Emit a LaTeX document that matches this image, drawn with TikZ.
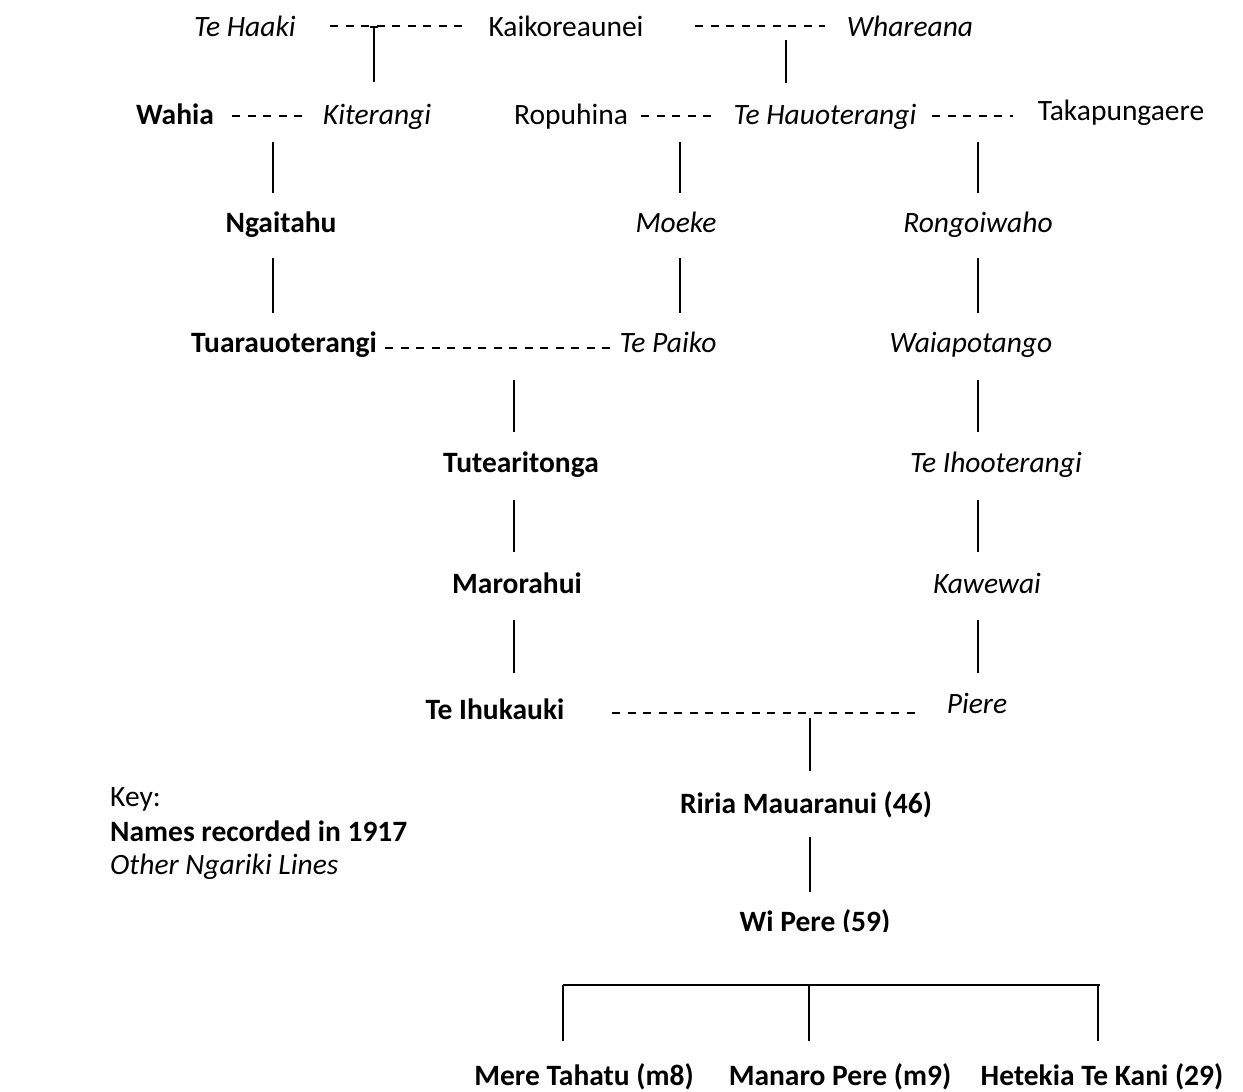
\documentclass[tikz,border=0pt]{standalone}
\usepackage{fontspec}
\setmainfont{Carlito}
\begin{document}
\begin{tikzpicture}[x=1pt,y=-1pt,
  every node/.style={inner sep=0pt,anchor=base,font=\fontsize{29.5}{34}\selectfont},
  rec/.style={font=\fontsize{29.5}{34}\selectfont\bfseries},
  oth/.style={font=\fontsize{29.5}{34}\selectfont\itshape},
  plain/.style={},
  descent/.style={line width=1.4pt},
  marriage/.style={line width=1.4pt,dash pattern=on 8pt off 7.5pt}]
\useasboundingbox (0,0) rectangle (1243,1092);

% generation 1
\node[oth]   (tehaaki)  at (245,36) {Te Haaki};
\node[plain] (kaikoreaunei) at (566,36) {Kaikoreaunei};
\node[oth]   (whareana) at (910,36) {Whareana};

% generation 2
\node[rec]   (wahia)     at (175,124) {Wahia};
\node[oth]   (kiterangi) at (377,124) {Kiterangi};
\node[plain] (ropuhina)  at (571,124) {Ropuhina};
\node[oth]   (tehauoterangi) at (825,124) {Te Hauoterangi};
\node[plain] (takapungaere)  at (1121,120) {Takapungaere};

% generation 3
\node[rec] (ngaitahu)   at (281,232) {Ngaitahu};
\node[oth] (moeke)      at (676,232) {Moeke};
\node[oth] (rongoiwaho) at (978,232) {Rongoiwaho};

% generation 4
\node[rec] (tuarauoterangi) at (284,352) {Tuarauoterangi};
\node[oth] (tepaiko)        at (668,352) {Te Paiko};
\node[oth] (waiapotango)    at (971,352) {Waiapotango};

% generation 5
\node[rec] (tutearitonga)  at (521,472) {Tutearitonga};
\node[oth] (teihooterangi) at (996,472) {Te Ihooterangi};

% generation 6
\node[rec] (marorahui) at (517,593) {Marorahui};
\node[oth] (kawewai)   at (987,593) {Kawewai};

% generation 7
\node[rec] (teihukauki) at (495,719) {Te Ihukauki};
\node[oth] (piere)      at (977,713) {Piere};

% generation 8 and 9
\node[rec] (riria) at (806,813) {Riria Mauaranui (46)};
\begin{scope}
  \clip (700,890) rectangle (950,931);
  \node[rec] (wipere) at (815,931) {Wi Pere (59)};
\end{scope}

% generation 10
\node[rec] (mere)    at (584,1085) {Mere Tahatu (m8)};
\node[rec] (manaro)  at (840,1085) {Manaro Pere (m9)};
\node[rec] (hetekia) at (1102,1085) {Hetekia Te Kani (29)};

% key
\node[plain,anchor=base west] (keyhead)  at (110,806) {Key:};
\node[rec,anchor=base west]   (keyrec)   at (110,841) {Names recorded in 1917};
\node[oth,anchor=base west]   (keyother) at (110,874) {Other Ngariki Lines};

% unions (dashed)
\coordinate (u1a) at (330,26);  \coordinate (u1b) at (462,26);
\coordinate (u2a) at (695,26);  \coordinate (u2b) at (825,26);
\coordinate (u3a) at (232,116); \coordinate (u3b) at (303,116);
\coordinate (u4a) at (641,116); \coordinate (u4b) at (717,116);
\coordinate (u5a) at (932,116); \coordinate (u5b) at (1013,116);
\coordinate (u6a) at (385,348); \coordinate (u6b) at (612,348);
\coordinate (u7a) at (612,713); \coordinate (u7b) at (915,713);
\foreach \a/\b in {u1a/u1b,u2a/u2b,u3a/u3b,u4a/u4b,u5a/u5b,u6a/u6b,u7a/u7b}
  \draw[marriage] (\a) -- (\b);

% descent lines
\coordinate (d1a) at (374,27);  \coordinate (d1b) at (374,82);
\coordinate (d2a) at (786,40);  \coordinate (d2b) at (786,83);
\coordinate (d3a) at (273,142); \coordinate (d3b) at (273,193);
\coordinate (d4a) at (680,142); \coordinate (d4b) at (680,193);
\coordinate (d5a) at (978,142); \coordinate (d5b) at (978,193);
\coordinate (d6a) at (273,258); \coordinate (d6b) at (273,313);
\coordinate (d7a) at (680,258); \coordinate (d7b) at (680,313);
\coordinate (d8a) at (978,258); \coordinate (d8b) at (978,313);
\coordinate (d9a) at (514,380); \coordinate (d9b) at (514,432);
\coordinate (d10a) at (978,380); \coordinate (d10b) at (978,432);
\coordinate (d11a) at (514,500); \coordinate (d11b) at (514,552);
\coordinate (d12a) at (978,500); \coordinate (d12b) at (978,552);
\coordinate (d13a) at (514,620); \coordinate (d13b) at (514,673);
\coordinate (d14a) at (978,620); \coordinate (d14b) at (978,673);
\coordinate (d15a) at (810,718); \coordinate (d15b) at (810,771);
\coordinate (d16a) at (810,837); \coordinate (d16b) at (810,892);
\foreach \i in {1,...,16}
  \draw[descent] (d\i a) -- (d\i b);
\draw[descent] ([xshift=-4pt]d1a) -- ([xshift=4pt]d1a);

% sibling bar
\coordinate (sbl) at (563,985); \coordinate (sbr) at (1100,985);
\coordinate (s1) at (563,1041); \coordinate (s2) at (809,1041); \coordinate (s3) at (1098,1041);
\draw[descent] (sbl) -- (sbr);
\draw[descent] (s1) -- (s1 |- sbl);
\draw[descent] (s2) -- (s2 |- sbl);
\draw[descent] (s3) -- (s3 |- sbl);
\end{tikzpicture}
\end{document}
